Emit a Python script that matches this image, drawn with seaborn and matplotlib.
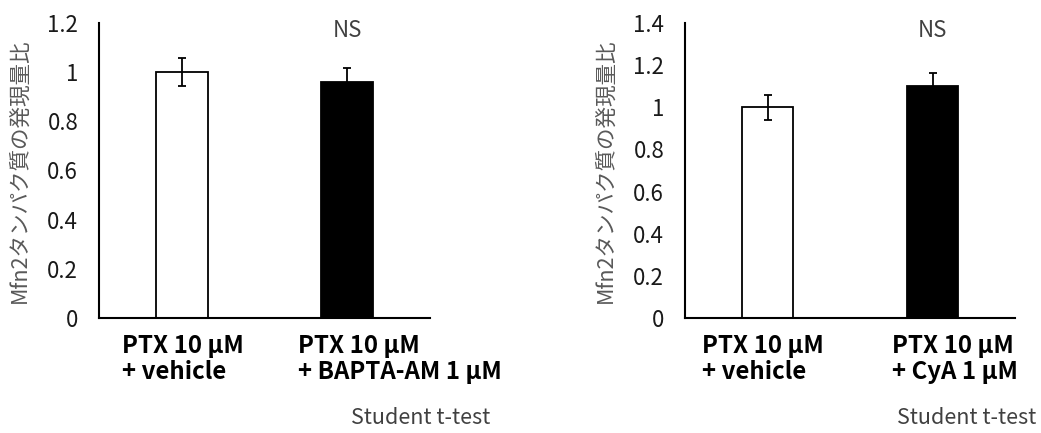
import numpy as np
import pandas as pd
import matplotlib
matplotlib.use("Agg")
import matplotlib.pyplot as plt
import matplotlib.transforms as mtransforms
import seaborn as sns

# Data
cond_left = ["PTX 10 μM\n+ vehicle", "PTX 10 μM\n+ BAPTA-AM 1 μM"]
mean_left = [1.00, 0.96]
err_left = [0.057, 0.056]

cond_right = ["PTX 10 μM\n+ vehicle", "PTX 10 μM\n+ CyA 1 μM"]
mean_right = [1.00, 1.10]
err_right = [0.058, 0.065]

ylim_left = (0, 1.2)
yticks_left = [0, 0.2, 0.4, 0.6, 0.8, 1.0, 1.2]
ylim_right = (0, 1.4)
yticks_right = [0, 0.2, 0.4, 0.6, 0.8, 1.0, 1.2, 1.4]

ylabel = "Mfn2タンパク質の発現量比"
bar_colors = ["white", "black"]

sns.set_theme(style="white")
plt.rcParams['font.family'] = ['Noto Sans CJK JP', 'DejaVu Sans']

fig = plt.figure(figsize=(10.41, 4.33), dpi=100)
ax_l = fig.add_axes([99 / 1041, 1 - 318 / 433, 331 / 1041, 295 / 433])
ax_r = fig.add_axes([685 / 1041, 1 - 318 / 433, 330 / 1041, 295 / 433])


def tick_fmt(v):
    return "0" if v == 0 else ("1" if v == 1 else f"{v:g}")


def draw_panel(ax, conds, means, errs, ylim, yticks, label_shift):
    df = pd.DataFrame({"cond": conds, "mean": means})
    sns.barplot(data=df, x="cond", y="mean", hue="cond", palette=bar_colors,
                edgecolor="black", linewidth=1.3, width=0.315, legend=False,
                ax=ax, zorder=2)
    ax.errorbar(x=np.arange(len(conds)), y=means, yerr=errs, fmt="none",
                ecolor="black", elinewidth=1.3, capsize=3, capthick=1.3, zorder=3)
    ax.set_xlim(-0.5, 1.5)
    ax.set_ylim(*ylim)
    ax.set_yticks(yticks)
    ax.set_yticklabels([tick_fmt(v) for v in yticks], fontsize=16, color="#1a1a1a")
    ax.tick_params(axis="y", length=0, pad=15)
    ax.tick_params(axis="x", length=0, labelbottom=False)
    ax.set_xlabel("")
    ax.set_ylabel(ylabel, fontsize=15.5, color="#595959", labelpad=12)

    # category labels: left-aligned blocks, shifted like the original (pixels)
    base = mtransforms.blended_transform_factory(ax.transData, ax.transAxes)
    for i, (lab, dx) in enumerate(zip(conds, label_shift)):
        off = mtransforms.ScaledTranslation(dx / 100, -16 / 100, fig.dpi_scale_trans)
        ax.text(i, 0, lab, transform=base + off, ha="left", va="top",
                fontsize=17.3, fontweight="bold", linespacing=1.08,
                multialignment="left", color="black")

    for side in ["top", "right"]:
        ax.spines[side].set_visible(False)
    for side in ["left", "bottom"]:
        ax.spines[side].set_color("black")
        ax.spines[side].set_linewidth(1.5)
    ax.grid(False)
    ax.text(1, 0.975, "NS", transform=base, ha="center", va="center",
            fontsize=16, color="#404040")


draw_panel(ax_l, cond_left, mean_left, err_left, ylim_left, yticks_left, [-60, -49])
draw_panel(ax_r, cond_right, mean_right, err_right, ylim_right, yticks_right, [-66, -41])

fig.text(490 / 1041, 1 - 418 / 433, "Student t-test", ha="right", va="center",
         fontsize=15.5, color="#404040")
fig.text(1036 / 1041, 1 - 418 / 433, "Student t-test", ha="right", va="center",
         fontsize=15.5, color="#404040")

fig.savefig("out.png", dpi=100, facecolor="white")
